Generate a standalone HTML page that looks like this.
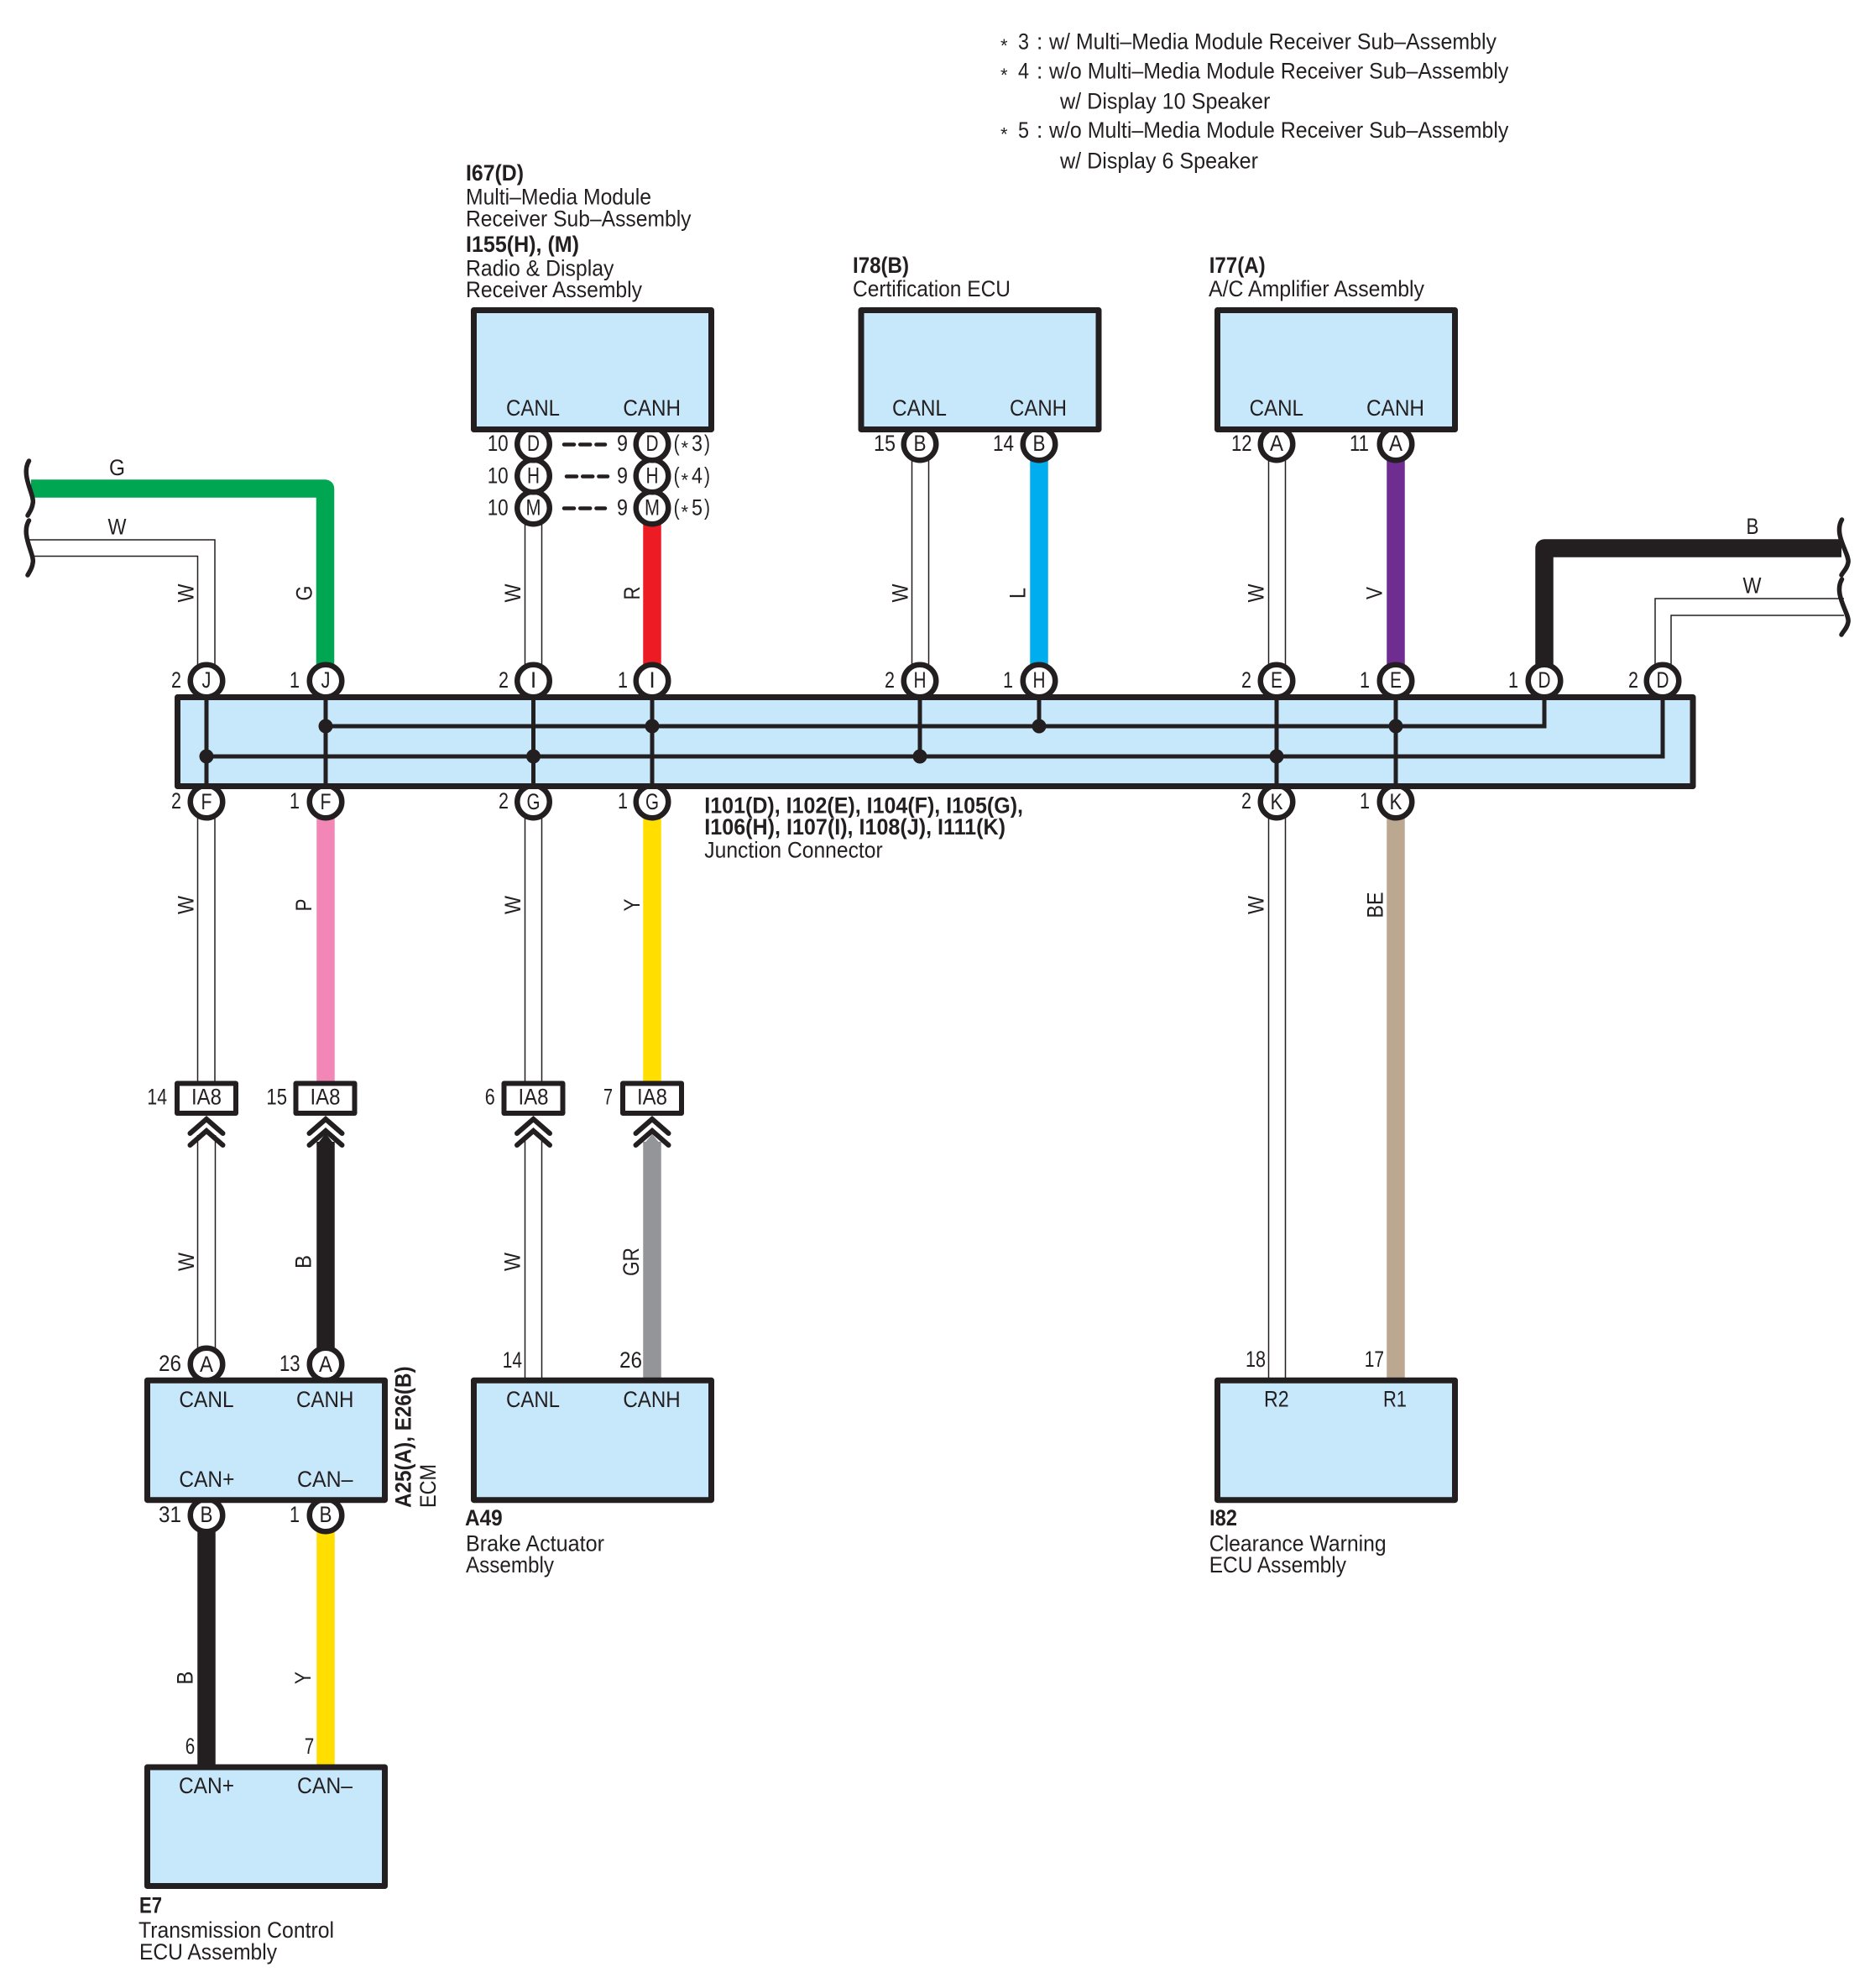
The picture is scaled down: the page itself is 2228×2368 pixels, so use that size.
<!DOCTYPE html>
<html><head><meta charset="utf-8"><title>CAN bus wiring diagram</title>
<style>
html,body{margin:0;padding:0;background:#fff}
svg{display:block}
text{font-family:"Liberation Sans",Arial,sans-serif;font-size:26.5px;fill:#231f20}
.b{font-weight:bold}
.m{text-anchor:middle}
.a{font-size:22px}
.bx{fill:#c7e8fb;stroke:#231f20;stroke-width:7;stroke-linejoin:round}
.c{fill:#fff;stroke:#231f20;stroke-width:6.5}
.t{fill:none;stroke:#231f20;stroke-width:1.5}
.j{fill:#fff;stroke:#231f20;stroke-width:6;stroke-linejoin:round}
.bus{fill:none;stroke:#231f20;stroke-width:5}
.wv{fill:none;stroke:#231f20;stroke-width:5.5;stroke-linecap:round}
.ch{fill:none;stroke:#231f20;stroke-width:6;stroke-linecap:round}
.d{fill:none;stroke:#231f20;stroke-width:4.5;stroke-dasharray:12 7.2;stroke-linecap:round}
</style></head><body>
<svg xmlns="http://www.w3.org/2000/svg" width="2228" height="2368" viewBox="0 0 2228 2368">
<rect width="2228" height="2368" fill="#fff"/>

<!-- thick wires -->
<g fill="none" stroke-linejoin="round" stroke-width="21.5">
<path d="M37,582H387.5V795" stroke="#00a651"/>
<path d="M777,620V795" stroke="#ed1c24"/>
<path d="M1238,545V795" stroke="#00aeef"/>
<path d="M1663,545V795" stroke="#6f2c91"/>
<path d="M1840,795V653H2194" stroke="#231f20"/>
<path d="M388,970V1290" stroke="#f287b7"/>
<path d="M777,970V1290" stroke="#ffde00"/>
<path d="M1663,970V1641" stroke="#bca790"/>
<path d="M388,1360V1610" stroke="#231f20"/>
<path d="M777,1360V1641" stroke="#939598"/>
<path d="M246,1820V2102" stroke="#231f20"/>
<path d="M388,1820V2102" stroke="#ffde00"/>
</g>
<polygon points="377,1364 388,1350 399,1364" fill="#231f20"/>
<polygon points="766,1364 777,1351 788,1364" fill="#939598"/>

<!-- thin white wires -->
<path class="t" d="M34,643H256V795M40,662.5H235.5V795"/>
<path class="t" d="M625.5,540V795M645.5,540V795"/>
<path class="t" d="M1086.5,540V795M1106.5,540V795"/>
<path class="t" d="M1511.5,540V795M1531.5,540V795"/>
<path class="t" d="M2197,713H1972V795M2197,733H1991V795"/>
<path class="t" d="M235.5,970V1290M256,970V1290"/>
<path class="t" d="M625.5,970V1290M645.5,970V1290"/>
<path class="t" d="M1511.5,970V1641M1531.5,970V1641"/>
<path class="t" d="M235.5,1352V1610M256.5,1352V1610"/>
<path class="t" d="M625.5,1352V1641M645.5,1352V1641"/>

<!-- wavy ends -->
<path class="wv" d="M34.5,549C24,566 42,590 39,600C38,607 35,610 33,614"/>
<path class="wv" d="M34.5,620C24,637 42,661 39,671C38,678 35,681 33,685"/>
<path class="wv" d="M2194.5,619C2184,637 2204,660 2202,670C2201,677 2196,681 2194,685"/>
<path class="wv" d="M2194.5,690C2184,708 2204,731 2202,741C2201,748 2196,752 2194,756"/>

<!-- connector circles -->
<g>
<circle class="c" cx="246" cy="811" r="19.25"/><circle class="c" cx="388" cy="811" r="19.25"/>
<circle class="c" cx="635.5" cy="811" r="19.25"/><circle class="c" cx="777" cy="811" r="19.25"/>
<circle class="c" cx="1096" cy="811" r="19.25"/><circle class="c" cx="1238" cy="811" r="19.25"/>
<circle class="c" cx="1521" cy="811" r="19.25"/><circle class="c" cx="1663" cy="811" r="19.25"/>
<circle class="c" cx="1840" cy="811" r="19.25"/><circle class="c" cx="1981" cy="811" r="19.25"/>
<circle class="c" cx="246" cy="955" r="19.25"/><circle class="c" cx="388" cy="955" r="19.25"/>
<circle class="c" cx="635.5" cy="955" r="19.25"/><circle class="c" cx="777" cy="955" r="19.25"/>
<circle class="c" cx="1521" cy="955" r="19.25"/><circle class="c" cx="1663" cy="955" r="19.25"/>
<circle class="c" cx="635.5" cy="605" r="19.25"/><circle class="c" cx="635.5" cy="567" r="19.25"/><circle class="c" cx="635.5" cy="529" r="19.25"/>
<circle class="c" cx="777" cy="605" r="19.25"/><circle class="c" cx="777" cy="567" r="19.25"/><circle class="c" cx="777" cy="529" r="19.25"/>
<circle class="c" cx="1096" cy="529" r="19.25"/><circle class="c" cx="1238" cy="529" r="19.25"/>
<circle class="c" cx="1521" cy="529" r="19.25"/><circle class="c" cx="1663" cy="529" r="19.25"/>
<circle class="c" cx="246" cy="1625" r="19.25"/><circle class="c" cx="388" cy="1625" r="19.25"/>
<circle class="c" cx="246" cy="1805" r="19.25"/><circle class="c" cx="388" cy="1805" r="19.25"/>
</g>

<!-- boxes -->
<rect class="bx" x="211.5" y="830.5" width="1805.5" height="106"/>
<rect class="bx" x="564.5" y="369.5" width="283" height="142"/>
<rect class="bx" x="1026" y="369.5" width="283" height="142"/>
<rect class="bx" x="1450.5" y="369.5" width="283" height="142"/>
<rect class="bx" x="175.5" y="1644.2" width="283" height="142.5"/>
<rect class="bx" x="564.5" y="1644.2" width="283" height="142.5"/>
<rect class="bx" x="1450.5" y="1644.2" width="283" height="142.5"/>
<rect class="bx" x="175.5" y="2105" width="283" height="141.5"/>

<!-- buses -->
<path class="bus" d="M388,865H1840V833M246,901H1981V833"/>
<path class="bus" d="M246,833V933M388,833V933M635.5,833V933M777,833V933M1521,833V933M1663,833V933M1096,833V901M1238,833V865"/>
<g fill="#231f20">
<circle cx="388" cy="865" r="8.5"/><circle cx="777" cy="865" r="8.5"/><circle cx="1238" cy="865" r="8.5"/><circle cx="1663" cy="865" r="8.5"/>
<circle cx="246" cy="901" r="8.5"/><circle cx="635.5" cy="901" r="8.5"/><circle cx="1096" cy="901" r="8.5"/><circle cx="1521" cy="901" r="8.5"/>
</g>

<!-- IA8 connectors -->
<rect class="j" x="211" y="1290.5" width="70" height="35.5"/>
<rect class="j" x="352.5" y="1290.5" width="70" height="35.5"/>
<rect class="j" x="600.5" y="1290.5" width="70" height="35.5"/>
<rect class="j" x="742" y="1290.5" width="70" height="35.5"/>
<path class="ch" d="M226.5,1350L246,1333L265.5,1350M226.5,1364L246,1347L265.5,1364"/>
<path class="ch" d="M368.5,1350L388,1333L407.5,1350M368.5,1364L388,1347L407.5,1364"/>
<path class="ch" d="M616,1350L635.5,1333L655,1350M616,1364L635.5,1347L655,1364"/>
<path class="ch" d="M757.5,1350L777,1333L796.5,1350M757.5,1364L777,1347L796.5,1364"/>
<text class="m" x="246" y="1315.5" textLength="36" lengthAdjust="spacingAndGlyphs">IA8</text>
<text class="m" x="387.5" y="1315.5" textLength="36" lengthAdjust="spacingAndGlyphs">IA8</text>
<text class="m" x="635.5" y="1315.5" textLength="36" lengthAdjust="spacingAndGlyphs">IA8</text>
<text class="m" x="777" y="1315.5" textLength="36" lengthAdjust="spacingAndGlyphs">IA8</text>

<!-- dashes -->
<path class="d" d="M672,529.5H721M675,567.5H724M672,605.5H721"/>

<!-- circle letters -->
<text class="m" x="246" y="819" textLength="11" lengthAdjust="spacingAndGlyphs">J</text>
<text class="m" x="388" y="819" textLength="11" lengthAdjust="spacingAndGlyphs">J</text>
<text class="m" x="635.5" y="819">I</text><text class="m" x="777" y="819">I</text>
<text class="m" x="1096" y="819" textLength="15" lengthAdjust="spacingAndGlyphs">H</text>
<text class="m" x="1238" y="819" textLength="15" lengthAdjust="spacingAndGlyphs">H</text>
<text class="m" x="1521" y="819" textLength="14" lengthAdjust="spacingAndGlyphs">E</text>
<text class="m" x="1663" y="819" textLength="14" lengthAdjust="spacingAndGlyphs">E</text>
<text class="m" x="1840" y="819" textLength="15" lengthAdjust="spacingAndGlyphs">D</text>
<text class="m" x="1981" y="819" textLength="15" lengthAdjust="spacingAndGlyphs">D</text>
<text class="m" x="246" y="964" textLength="13" lengthAdjust="spacingAndGlyphs">F</text>
<text class="m" x="388" y="964" textLength="13" lengthAdjust="spacingAndGlyphs">F</text>
<text class="m" x="635.5" y="964" textLength="16" lengthAdjust="spacingAndGlyphs">G</text>
<text class="m" x="777" y="964" textLength="16" lengthAdjust="spacingAndGlyphs">G</text>
<text class="m" x="1521" y="964" textLength="15" lengthAdjust="spacingAndGlyphs">K</text>
<text class="m" x="1663" y="964" textLength="15" lengthAdjust="spacingAndGlyphs">K</text>
<text class="m" x="635.5" y="537" textLength="15" lengthAdjust="spacingAndGlyphs">D</text>
<text class="m" x="635.5" y="575.7" textLength="15" lengthAdjust="spacingAndGlyphs">H</text>
<text class="m" x="635.5" y="613.5" textLength="18" lengthAdjust="spacingAndGlyphs">M</text>
<text class="m" x="777" y="537" textLength="15" lengthAdjust="spacingAndGlyphs">D</text>
<text class="m" x="777" y="575.7" textLength="15" lengthAdjust="spacingAndGlyphs">H</text>
<text class="m" x="777" y="613.5" textLength="18" lengthAdjust="spacingAndGlyphs">M</text>
<text class="m" x="1096" y="537" textLength="15" lengthAdjust="spacingAndGlyphs">B</text>
<text class="m" x="1238" y="537" textLength="15" lengthAdjust="spacingAndGlyphs">B</text>
<text class="m" x="1521" y="537" textLength="16" lengthAdjust="spacingAndGlyphs">A</text>
<text class="m" x="1663" y="537" textLength="16" lengthAdjust="spacingAndGlyphs">A</text>
<text class="m" x="246" y="1634" textLength="16" lengthAdjust="spacingAndGlyphs">A</text>
<text class="m" x="388" y="1634" textLength="16" lengthAdjust="spacingAndGlyphs">A</text>
<text class="m" x="246" y="1813" textLength="15" lengthAdjust="spacingAndGlyphs">B</text>
<text class="m" x="388" y="1813" textLength="15" lengthAdjust="spacingAndGlyphs">B</text>

<!-- pin numbers -->
<text x="204" y="819" textLength="12" lengthAdjust="spacingAndGlyphs">2</text><text x="345" y="819" textLength="12" lengthAdjust="spacingAndGlyphs">1</text>
<text x="594" y="819" textLength="12" lengthAdjust="spacingAndGlyphs">2</text><text x="736" y="819" textLength="12" lengthAdjust="spacingAndGlyphs">1</text>
<text x="1054" y="819" textLength="12" lengthAdjust="spacingAndGlyphs">2</text><text x="1195" y="819" textLength="12" lengthAdjust="spacingAndGlyphs">1</text>
<text x="1479" y="819" textLength="12" lengthAdjust="spacingAndGlyphs">2</text><text x="1620" y="819" textLength="12" lengthAdjust="spacingAndGlyphs">1</text>
<text x="1797" y="819" textLength="12" lengthAdjust="spacingAndGlyphs">1</text><text x="1940" y="819" textLength="12" lengthAdjust="spacingAndGlyphs">2</text>
<text x="204" y="963" textLength="12" lengthAdjust="spacingAndGlyphs">2</text><text x="345" y="963" textLength="12" lengthAdjust="spacingAndGlyphs">1</text>
<text x="594" y="963" textLength="12" lengthAdjust="spacingAndGlyphs">2</text><text x="736" y="963" textLength="12" lengthAdjust="spacingAndGlyphs">1</text>
<text x="1479" y="963" textLength="12" lengthAdjust="spacingAndGlyphs">2</text><text x="1620" y="963" textLength="12" lengthAdjust="spacingAndGlyphs">1</text>
<text x="580.7" y="537" textLength="25" lengthAdjust="spacingAndGlyphs">10</text>
<text x="580.7" y="575.7" textLength="25" lengthAdjust="spacingAndGlyphs">10</text>
<text x="580.7" y="613.5" textLength="25" lengthAdjust="spacingAndGlyphs">10</text>
<text x="735" y="537" textLength="13" lengthAdjust="spacingAndGlyphs">9</text>
<text x="735" y="575.7" textLength="13" lengthAdjust="spacingAndGlyphs">9</text>
<text x="735" y="613.5" textLength="13" lengthAdjust="spacingAndGlyphs">9</text>
<text x="802.6" y="537" textLength="7" lengthAdjust="spacingAndGlyphs">(</text><text class="a" x="811.5" y="541">*</text><text x="824" y="537" textLength="13" lengthAdjust="spacingAndGlyphs">3</text><text x="839" y="537" textLength="7" lengthAdjust="spacingAndGlyphs">)</text>
<text x="802.6" y="575.7" textLength="7" lengthAdjust="spacingAndGlyphs">(</text><text class="a" x="811.5" y="579.7">*</text><text x="824" y="575.7" textLength="13" lengthAdjust="spacingAndGlyphs">4</text><text x="839" y="575.7" textLength="7" lengthAdjust="spacingAndGlyphs">)</text>
<text x="802.6" y="613.5" textLength="7" lengthAdjust="spacingAndGlyphs">(</text><text class="a" x="811.5" y="617.5">*</text><text x="824" y="613.5" textLength="13" lengthAdjust="spacingAndGlyphs">5</text><text x="839" y="613.5" textLength="7" lengthAdjust="spacingAndGlyphs">)</text>
<text x="1041" y="537" textLength="26" lengthAdjust="spacingAndGlyphs">15</text>
<text x="1183" y="537" textLength="25" lengthAdjust="spacingAndGlyphs">14</text>
<text x="1467" y="537" textLength="24.6" lengthAdjust="spacingAndGlyphs">12</text>
<text x="1608" y="537" textLength="23" lengthAdjust="spacingAndGlyphs">11</text>
<text x="175.4" y="1315.5" textLength="23.6" lengthAdjust="spacingAndGlyphs">14</text>
<text x="317.4" y="1315.5" textLength="24.6" lengthAdjust="spacingAndGlyphs">15</text>
<text x="577.7" y="1315.5" textLength="12" lengthAdjust="spacingAndGlyphs">6</text>
<text x="719" y="1315.5" textLength="11" lengthAdjust="spacingAndGlyphs">7</text>
<text x="189" y="1633" textLength="27" lengthAdjust="spacingAndGlyphs">26</text>
<text x="333" y="1633" textLength="24.6" lengthAdjust="spacingAndGlyphs">13</text>
<text x="189" y="1813" textLength="27" lengthAdjust="spacingAndGlyphs">31</text>
<text x="345" y="1813" textLength="12" lengthAdjust="spacingAndGlyphs">1</text>
<text x="598.7" y="1629" textLength="23.3" lengthAdjust="spacingAndGlyphs">14</text>
<text x="738" y="1629" textLength="27" lengthAdjust="spacingAndGlyphs">26</text>
<text x="1484" y="1628" textLength="24" lengthAdjust="spacingAndGlyphs">18</text>
<text x="1625.7" y="1628" textLength="23.3" lengthAdjust="spacingAndGlyphs">17</text>
<text x="220.7" y="2089" textLength="11.5" lengthAdjust="spacingAndGlyphs">6</text>
<text x="362.7" y="2089" textLength="11.5" lengthAdjust="spacingAndGlyphs">7</text>

<!-- pin names -->
<text x="603" y="495" textLength="64" lengthAdjust="spacingAndGlyphs">CANL</text>
<text x="742.4" y="495" textLength="68.6" lengthAdjust="spacingAndGlyphs">CANH</text>
<text x="1063" y="495" textLength="65" lengthAdjust="spacingAndGlyphs">CANL</text>
<text x="1203" y="495" textLength="68" lengthAdjust="spacingAndGlyphs">CANH</text>
<text x="1488.6" y="495" textLength="64.4" lengthAdjust="spacingAndGlyphs">CANL</text>
<text x="1628" y="495" textLength="69" lengthAdjust="spacingAndGlyphs">CANH</text>
<text x="213.4" y="1676" textLength="65.2" lengthAdjust="spacingAndGlyphs">CANL</text>
<text x="353" y="1676" textLength="68.4" lengthAdjust="spacingAndGlyphs">CANH</text>
<text x="213.4" y="1771" textLength="66" lengthAdjust="spacingAndGlyphs">CAN+</text>
<text x="354" y="1771" textLength="66.5" lengthAdjust="spacingAndGlyphs">CAN–</text>
<text x="603" y="1676" textLength="64" lengthAdjust="spacingAndGlyphs">CANL</text>
<text x="742.4" y="1676" textLength="68.3" lengthAdjust="spacingAndGlyphs">CANH</text>
<text x="1506" y="1675.7" textLength="29.7" lengthAdjust="spacingAndGlyphs">R2</text>
<text x="1648" y="1675.7" textLength="28" lengthAdjust="spacingAndGlyphs">R1</text>
<text x="213" y="2136" textLength="66" lengthAdjust="spacingAndGlyphs">CAN+</text>
<text x="354" y="2136" textLength="66" lengthAdjust="spacingAndGlyphs">CAN–</text>

<!-- wire colour labels -->
<text class="m" x="139.5" y="566" textLength="19" lengthAdjust="spacingAndGlyphs">G</text>
<text class="m" x="139.5" y="636.4" textLength="22" lengthAdjust="spacingAndGlyphs">W</text>
<text class="m" x="2088" y="636" textLength="15" lengthAdjust="spacingAndGlyphs">B</text>
<text class="m" x="2087.5" y="706.7" textLength="22" lengthAdjust="spacingAndGlyphs">W</text>
<text class="m" transform="translate(230.5,706.5) rotate(-90)" textLength="22" lengthAdjust="spacingAndGlyphs">W</text>
<text class="m" transform="translate(371.5,706.5) rotate(-90)" textLength="18" lengthAdjust="spacingAndGlyphs">G</text>
<text class="m" transform="translate(620,706.5) rotate(-90)" textLength="22" lengthAdjust="spacingAndGlyphs">W</text>
<text class="m" transform="translate(762,706.5) rotate(-90)" textLength="16" lengthAdjust="spacingAndGlyphs">R</text>
<text class="m" transform="translate(1081.5,706.5) rotate(-90)" textLength="22" lengthAdjust="spacingAndGlyphs">W</text>
<text class="m" transform="translate(1221.5,706.5) rotate(-90)" textLength="13" lengthAdjust="spacingAndGlyphs">L</text>
<text class="m" transform="translate(1505.5,706.5) rotate(-90)" textLength="22" lengthAdjust="spacingAndGlyphs">W</text>
<text class="m" transform="translate(1646.5,706.5) rotate(-90)" textLength="15" lengthAdjust="spacingAndGlyphs">V</text>
<text class="m" transform="translate(230.5,1078) rotate(-90)" textLength="22" lengthAdjust="spacingAndGlyphs">W</text>
<text class="m" transform="translate(371,1078) rotate(-90)" textLength="15" lengthAdjust="spacingAndGlyphs">P</text>
<text class="m" transform="translate(620,1078) rotate(-90)" textLength="22" lengthAdjust="spacingAndGlyphs">W</text>
<text class="m" transform="translate(762,1078) rotate(-90)" textLength="15" lengthAdjust="spacingAndGlyphs">Y</text>
<text class="m" transform="translate(1505.5,1078) rotate(-90)" textLength="22" lengthAdjust="spacingAndGlyphs">W</text>
<text class="m" transform="translate(1647.5,1078) rotate(-90)" textLength="31" lengthAdjust="spacingAndGlyphs">BE</text>
<text class="m" transform="translate(231,1503) rotate(-90)" textLength="22" lengthAdjust="spacingAndGlyphs">W</text>
<text class="m" transform="translate(370.5,1503) rotate(-90)" textLength="16" lengthAdjust="spacingAndGlyphs">B</text>
<text class="m" transform="translate(619.5,1503) rotate(-90)" textLength="22" lengthAdjust="spacingAndGlyphs">W</text>
<text class="m" transform="translate(761,1503) rotate(-90)" textLength="33.7" lengthAdjust="spacingAndGlyphs">GR</text>
<text class="m" transform="translate(229.5,1998.6) rotate(-90)" textLength="16" lengthAdjust="spacingAndGlyphs">B</text>
<text class="m" transform="translate(370.2,1998.6) rotate(-90)" textLength="15" lengthAdjust="spacingAndGlyphs">Y</text>

<!-- component labels -->
<text class="b" x="555" y="215" textLength="69" lengthAdjust="spacingAndGlyphs">I67(D)</text>
<text x="555" y="243.3" textLength="221" lengthAdjust="spacingAndGlyphs">Multi–Media Module</text>
<text x="555" y="269.3" textLength="268.5" lengthAdjust="spacingAndGlyphs">Receiver Sub–Assembly</text>
<text class="b" x="555" y="300" textLength="135" lengthAdjust="spacingAndGlyphs">I155(H), (M)</text>
<text x="555" y="328.3" textLength="176.4" lengthAdjust="spacingAndGlyphs">Radio &amp; Display</text>
<text x="555" y="354" textLength="210" lengthAdjust="spacingAndGlyphs">Receiver Assembly</text>
<text class="b" x="1016" y="325" textLength="67" lengthAdjust="spacingAndGlyphs">I78(B)</text>
<text x="1016" y="353" textLength="188" lengthAdjust="spacingAndGlyphs">Certification ECU</text>
<text class="b" x="1440.7" y="325" textLength="67" lengthAdjust="spacingAndGlyphs">I77(A)</text>
<text x="1440" y="353" textLength="257" lengthAdjust="spacingAndGlyphs">A/C Amplifier Assembly</text>
<text class="b" x="839.3" y="968.3" textLength="379.7" lengthAdjust="spacingAndGlyphs">I101(D), I102(E), I104(F), I105(G),</text>
<text class="b" x="839.3" y="994" textLength="358.7" lengthAdjust="spacingAndGlyphs">I106(H), I107(I), I108(J), I111(K)</text>
<text x="839.3" y="1021.7" textLength="212.4" lengthAdjust="spacingAndGlyphs">Junction Connector</text>
<text class="b" transform="translate(489.5,1796) rotate(-90)" textLength="168.6" lengthAdjust="spacingAndGlyphs">A25(A), E26(B)</text>
<text transform="translate(519,1796) rotate(-90)" textLength="52" lengthAdjust="spacingAndGlyphs">ECM</text>
<text class="b" x="554" y="1817" textLength="44.7" lengthAdjust="spacingAndGlyphs">A49</text>
<text x="555" y="1847.5" textLength="165" lengthAdjust="spacingAndGlyphs">Brake Actuator</text>
<text x="555" y="1873" textLength="105" lengthAdjust="spacingAndGlyphs">Assembly</text>
<text class="b" x="1441" y="1817" textLength="33" lengthAdjust="spacingAndGlyphs">I82</text>
<text x="1440.7" y="1847.3" textLength="211" lengthAdjust="spacingAndGlyphs">Clearance Warning</text>
<text x="1440.7" y="1873" textLength="163.3" lengthAdjust="spacingAndGlyphs">ECU Assembly</text>
<text class="b" x="166" y="2278.7" textLength="27" lengthAdjust="spacingAndGlyphs">E7</text>
<text x="165" y="2308" textLength="233" lengthAdjust="spacingAndGlyphs">Transmission Control</text>
<text x="166" y="2334" textLength="164" lengthAdjust="spacingAndGlyphs">ECU Assembly</text>

<!-- notes -->
<text class="a" x="1192" y="62">*</text><text x="1213" y="58.5" textLength="13" lengthAdjust="spacingAndGlyphs">3</text><text x="1235" y="58.5">:</text>
<text x="1250" y="58.5" textLength="533" lengthAdjust="spacingAndGlyphs">w/ Multi–Media Module Receiver Sub–Assembly</text>
<text class="a" x="1192" y="97">*</text><text x="1213" y="93.7" textLength="13" lengthAdjust="spacingAndGlyphs">4</text><text x="1235" y="93.7">:</text>
<text x="1250" y="93.7" textLength="547.4" lengthAdjust="spacingAndGlyphs">w/o Multi–Media Module Receiver Sub–Assembly</text>
<text x="1263" y="129.7" textLength="250.4" lengthAdjust="spacingAndGlyphs">w/ Display 10 Speaker</text>
<text class="a" x="1192" y="167.5">*</text><text x="1213" y="164" textLength="13" lengthAdjust="spacingAndGlyphs">5</text><text x="1235" y="164">:</text>
<text x="1250" y="164" textLength="547.4" lengthAdjust="spacingAndGlyphs">w/o Multi–Media Module Receiver Sub–Assembly</text>
<text x="1263" y="200.5" textLength="236" lengthAdjust="spacingAndGlyphs">w/ Display 6 Speaker</text>
</svg>
</body></html>
